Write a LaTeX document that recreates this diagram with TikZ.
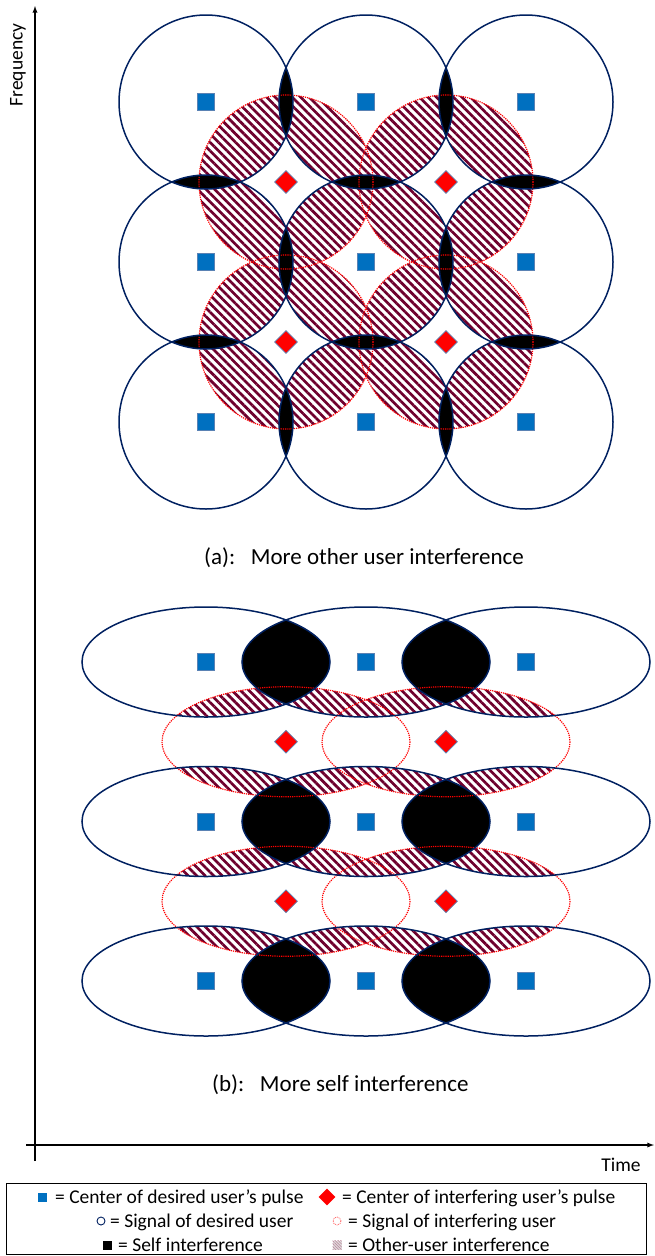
\documentclass[tikz,border=0pt]{standalone}
\usepackage{fontspec}
\setmainfont{Carlito}
\usetikzlibrary{shapes.geometric,patterns.meta}
\definecolor{navy}{RGB}{0,32,96}
\definecolor{pulseblue}{RGB}{0,112,192}
\definecolor{edgeblue}{RGB}{90,130,180}
\definecolor{hatchred}{RGB}{110,0,45}
\begin{document}
\begin{tikzpicture}[x=1pt,y=-1pt,>=latex,
  desired/.style={rectangle,fill=pulseblue,draw=edgeblue,line width=0.8pt,minimum size=17pt,inner sep=0pt},
  interf/.style={diamond,fill=red,draw=edgeblue,line width=0.8pt,minimum size=23pt,inner sep=0pt},
  dsig/.style={draw=navy,line width=1.5pt},
  isig/.style={draw=red,line width=1.2pt,densely dotted},
  other/.style={pattern={Lines[angle=-45,distance=6pt,line width=2.7pt]},pattern color=hatchred},
  keytext/.style={anchor=base west,inner sep=0pt,font=\fontsize{19.5}{22}\selectfont}]
\useasboundingbox (0,0) rectangle (654,1256);
% axes
\coordinate (fbot) at (35,1161);
\coordinate (ftop) at (35,6);
\coordinate (tleft) at (26,1145);
\coordinate (tright) at (654,1145);
\draw[->,line width=1.3pt] (fbot) -- (ftop);
\draw[->,line width=1.3pt] (tleft) -- (tright);
\node[rotate=90,font=\fontsize{19.5}{22}\selectfont] (freq) at (18,65) {Frequency};
\node[font=\fontsize{19.5}{22}\selectfont] (time) at (621,1165) {Time};

% (a): round pulses
\def\r{87}
\foreach \i in {0,1,2} \foreach \j in {0,1,2}
  \coordinate (a\i\j) at (206+160*\i,102+160*\j);
\foreach \i in {0,1} \foreach \j in {0,1}
  \coordinate (u\i\j) at (286+160*\i,182+160*\j);
\foreach \i in {0,1,2} \foreach \j in {0,1,2} {
  \begin{scope}
    \clip (a\i\j) circle[radius=\r];
    \path[other] (u00) circle[radius=\r] (u10) circle[radius=\r]
                 (u01) circle[radius=\r] (u11) circle[radius=\r];
  \end{scope}
}
\foreach \i/\k in {0/1,1/2} \foreach \j in {0,1,2} {
  \begin{scope}
    \clip (a\i\j) circle[radius=\r];
    \fill (a\k\j) circle[radius=\r];
  \end{scope}
  \begin{scope}
    \clip (a\j\i) circle[radius=\r];
    \fill (a\j\k) circle[radius=\r];
  \end{scope}
}
\foreach \i in {0,1} \foreach \j in {0,1}
  \draw[isig] (u\i\j) circle[radius=\r];
\foreach \i in {0,1,2} \foreach \j in {0,1,2}
  \draw[dsig] (a\i\j) circle[radius=\r];
\foreach \i in {0,1,2} \foreach \j in {0,1,2}
  \node[desired] (pa\i\j) at (a\i\j) {};
\foreach \i in {0,1} \foreach \j in {0,1}
  \node[interf] (qa\i\j) at (u\i\j) {};
\node[anchor=west,inner sep=0pt,font=\fontsize{23}{26}\selectfont] (capa) at (204,558) {(a):~~~More other user interference};

% (b): long pulses
\def\rx{124}
\def\ry{55}
\foreach \i in {0,1,2} \foreach \j in {0,1,2}
  \coordinate (b\i\j) at (206+160*\i,662+159.5*\j);
\foreach \i in {0,1} \foreach \j in {0,1}
  \coordinate (v\i\j) at (286+160*\i,741.75+159.5*\j);
\foreach \i in {0,1,2} \foreach \j in {0,1,2} {
  \begin{scope}
    \clip (b\i\j) ellipse[x radius=\rx,y radius=\ry];
    \path[other] (v00) ellipse[x radius=\rx,y radius=\ry] (v10) ellipse[x radius=\rx,y radius=\ry]
                 (v01) ellipse[x radius=\rx,y radius=\ry] (v11) ellipse[x radius=\rx,y radius=\ry];
  \end{scope}
}
\foreach \i/\k in {0/1,1/2} \foreach \j in {0,1,2} {
  \begin{scope}
    \clip (b\i\j) ellipse[x radius=\rx,y radius=\ry];
    \fill (b\k\j) ellipse[x radius=\rx,y radius=\ry];
  \end{scope}
}
\foreach \i in {0,1} \foreach \j in {0,1}
  \draw[isig] (v\i\j) ellipse[x radius=\rx,y radius=\ry];
\foreach \i in {0,1,2} \foreach \j in {0,1,2}
  \draw[dsig] (b\i\j) ellipse[x radius=\rx,y radius=\ry];
\foreach \i in {0,1,2} \foreach \j in {0,1,2}
  \node[desired] (pb\i\j) at (b\i\j) {};
\foreach \i in {0,1} \foreach \j in {0,1}
  \node[interf] (qb\i\j) at (v\i\j) {};
\node[anchor=west,inner sep=0pt,font=\fontsize{23}{26}\selectfont] (capb) at (212,1085) {(b):~~~More self interference};

% legend
\node[draw,line width=1pt,anchor=north west,minimum width=640,minimum height=71,inner sep=0pt] (legend) at (6,1183) {};
\node[fill=pulseblue,minimum size=9,inner sep=0pt] (k1) at (42,1197) {};
\node[keytext] (t1) at (55,1203) {= Center of desired user’s pulse};
\node[diamond,fill=red,minimum size=17,inner sep=0pt] (k2) at (327,1197) {};
\node[keytext] (t2) at (342,1203) {= Center of interfering user’s pulse};
\node[circle,draw=navy,line width=0.9pt,minimum size=8,inner sep=0pt] (k3) at (101,1221) {};
\node[keytext] (t3) at (110,1227) {= Signal of desired user};
\node[circle,draw=red!70,densely dotted,line width=0.8pt,minimum size=8,inner sep=0pt] (k4) at (337,1221) {};
\node[keytext] (t4) at (348,1227) {= Signal of interfering user};
\node[fill=black,minimum size=9,inner sep=0pt] (k5) at (107,1245) {};
\node[keytext] (t5) at (118,1251) {= Self interference};
\node[fill=black!12,minimum size=9,inner sep=0pt,postaction={pattern={Lines[angle=-45,distance=2pt,line width=0.7pt]},pattern color=hatchred!45}] (k6) at (337,1245) {};
\node[keytext] (t6) at (348,1251) {= Other-user interference};
\end{tikzpicture}
\end{document}
